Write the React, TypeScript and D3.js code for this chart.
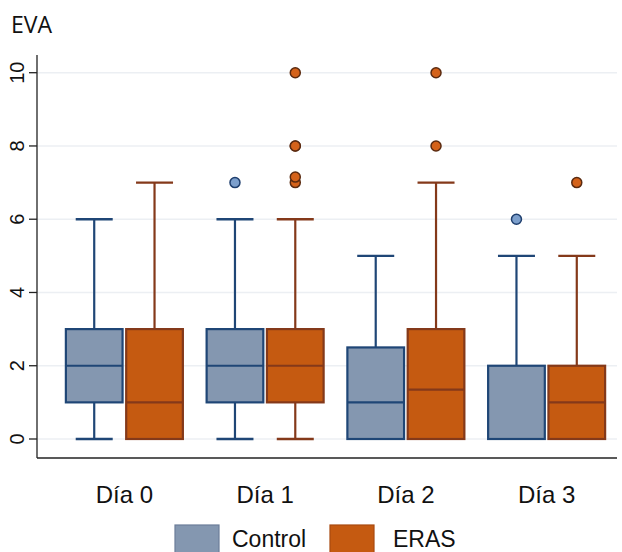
import React from 'react';
import * as d3 from 'd3';

// categories and series
const days = ['Día 0', 'Día 1', 'Día 2', 'Día 3'];
const groups = ['Control', 'ERAS'];

// box stats per day: [min, q1, median, q3, max]
const controlStats = [
  [0, 1, 2, 3, 6],
  [0, 1, 2, 3, 6],
  [0, 0, 1, 2.5, 5],
  [0, 0, 0, 2, 5],
];
const erasStats = [
  [0, 0, 1, 3, 7],
  [0, 1, 2, 3, 6],
  [0, 0, 1.35, 3, 7],
  [0, 0, 1, 2, 5],
];
const controlOutliers = [[], [7], [], [6]];
const erasOutliers = [[], [7, 7.15, 8, 8, 10], [8, 10], [7]];

const yTicks = [0, 2, 4, 6, 8, 10];

const W = 622, H = 552;
const axisX = 37, axisY = 458, plotRight = 617, plotTop = 55;

const colors = {
  Control: { fill: '#8497b0', stroke: '#1f4676', dot: '#7c9fcc', dotStroke: '#1f3f6e' },
  ERAS: { fill: '#c55a11', stroke: '#84391a', dot: '#d4621a', dotStroke: '#5a2a10' },
};

const font = 'Liberation Sans, Arial, sans-serif';

export default function App() {
  const y = d3.scaleLinear().domain([0, 10]).range([439, 72.7]);
  const x = d3.scaleBand().domain(days).range([54, 617]).padding(0);
  const sub = d3.scaleBand().domain(groups).range([-58.5, 58.5]).paddingInner(0.06);
  const bw = sub.bandwidth();
  const capW = 37;

  const series = [
    { name: 'Control', stats: controlStats, outliers: controlOutliers },
    { name: 'ERAS', stats: erasStats, outliers: erasOutliers },
  ];

  return (
    <svg width={W} height={H} style={{ position: 'absolute', left: 0, top: 0, background: '#fff' }}>
      {/* grid lines */}
      {yTicks.map(t => (
        <line key={'g' + t} x1={axisX} x2={plotRight} y1={y(t)} y2={y(t)} stroke="#eceff3" strokeWidth={1.5} />
      ))}
      {/* axes */}
      <line x1={axisX} x2={axisX} y1={plotTop} y2={axisY} stroke="#222" strokeWidth={1.3} />
      <line x1={axisX} x2={plotRight} y1={axisY} y2={axisY} stroke="#222" strokeWidth={1.3} />
      {yTicks.map(t => (
        <g key={'t' + t}>
          <line x1={29} x2={axisX} y1={y(t)} y2={y(t)} stroke="#222" strokeWidth={1.3} />
          <text transform={`translate(23.5,${y(t)}) rotate(-90)`} textAnchor="middle"
            fontFamily={font} fontSize={20} fill="#111">{t}</text>
        </g>
      ))}
      <text x={11} y={33} fontFamily="Open Sans, sans-serif" fontSize={23} fill="#111">EVA</text>

      {/* boxes */}
      {series.map(s => {
        const c = colors[s.name as 'Control' | 'ERAS'];
        return days.map((d, i) => {
          const cx = (x(d) as number) + x.bandwidth() / 2 + (sub(s.name) as number) + bw / 2;
          const [mn, q1, md, q3, mx] = s.stats[i];
          return (
            <g key={s.name + d}>
              {mx > q3 && <line x1={cx} x2={cx} y1={y(q3)} y2={y(mx)} stroke={c.stroke} strokeWidth={2.2} />}
              {mx > q3 && <line x1={cx - capW / 2} x2={cx + capW / 2} y1={y(mx)} y2={y(mx)} stroke={c.stroke} strokeWidth={2.4} />}
              {mn < q1 && <line x1={cx} x2={cx} y1={y(q1)} y2={y(mn)} stroke={c.stroke} strokeWidth={2.2} />}
              {mn < q1 && <line x1={cx - capW / 2} x2={cx + capW / 2} y1={y(mn)} y2={y(mn)} stroke={c.stroke} strokeWidth={2.4} />}
              <rect x={cx - bw / 2} y={y(q3)} width={bw} height={y(q1) - y(q3)}
                fill={c.fill} stroke={c.stroke} strokeWidth={2.2} />
              <line x1={cx - bw / 2} x2={cx + bw / 2} y1={y(md)} y2={y(md)} stroke={c.stroke} strokeWidth={2.2} />
              {s.outliers[i].map((o, k) => (
                <circle key={k} cx={cx} cy={y(o)} r={5} fill={c.dot} stroke={c.dotStroke} strokeWidth={1.5} />
              ))}
            </g>
          );
        });
      })}

      {/* category labels */}
      {days.map(d => (
        <text key={'l' + d} x={(x(d) as number) + x.bandwidth() / 2} y={503} textAnchor="middle"
          fontFamily={font} fontSize={24} fill="#111">{d}</text>
      ))}

      {/* legend */}
      <rect x={175} y={525} width={44} height={40} fill={colors.Control.fill} stroke="#6b7d99" strokeWidth={1.2} />
      <text x={232} y={547} fontFamily={font} fontSize={23} fill="#111">Control</text>
      <rect x={330} y={525} width={44} height={40} fill={colors.ERAS.fill} stroke="#a84a10" strokeWidth={1.2} />
      <text x={393} y={547} fontFamily={font} fontSize={23} fill="#111">ERAS</text>
    </svg>
  );
}
